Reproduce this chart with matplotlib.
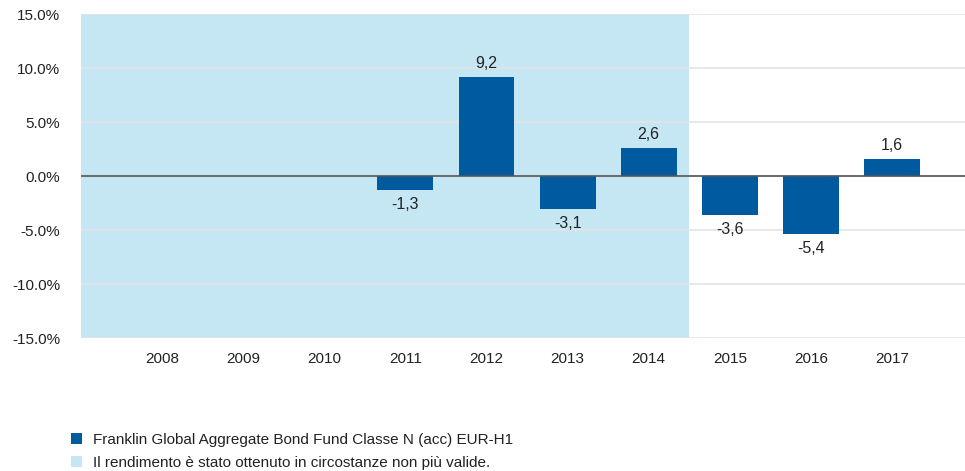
import matplotlib
matplotlib.use("Agg")
import matplotlib.pyplot as plt
from matplotlib.patches import Patch
import numpy as np

# Annual returns (%) - years without data are left empty
years = ['2008', '2009', '2010', '2011', '2012', '2013', '2014', '2015', '2016', '2017']
returns = [np.nan, np.nan, np.nan, -1.3, 9.2, -3.1, 2.6, -3.6, -5.4, 1.6]
shaded_until = '2014'  # performance achieved in circumstances no longer valid

fund_label = 'Franklin Global Aggregate Bond Fund Classe N (acc) EUR-H1'
shade_label = 'Il rendimento è stato ottenuto in circostanze non più valide.'

bar_color = '#005aa0'
shade_color = '#c5e7f3'

plt.rcParams['font.family'] = ['Liberation Sans', 'DejaVu Sans']

fig = plt.figure(figsize=(9.65, 4.71), dpi=100)
ax = fig.add_axes([81 / 965, 1 - 338 / 471, 1 - 81 / 965, (338 - 14) / 471])

x = np.arange(len(years))
vals = np.array(returns)

# shaded background for the early period
ax.axvspan(-1, years.index(shaded_until) + 0.5, color=shade_color, zorder=0, lw=0)

# gridlines and zero line
for y in np.arange(-15, 16, 5):
    ax.axhline(y, color='#e4e4e4', lw=1.2, zorder=1)
ax.axhline(0, color='#555555', lw=1.2, zorder=3)

ax.bar(x, vals, width=0.69, color=bar_color, zorder=2)

for xi, v in zip(x, vals):
    if np.isnan(v):
        continue
    txt = f'{v:.1f}'.replace('.', ',')
    if v >= 0:
        ax.annotate(txt, (xi, v), xytext=(0, 4), textcoords='offset points',
                    ha='center', va='bottom', fontsize=11.5, color='#222222')
    else:
        ax.annotate(txt, (xi, v), xytext=(0, -5), textcoords='offset points',
                    ha='center', va='top', fontsize=11.5, color='#222222')

ax.set_xlim(-1, 9.9)
ax.set_ylim(-15, 15)
ax.set_yticks(np.arange(-15, 16, 5))
ax.set_yticklabels([f'{t:.1f}%' for t in np.arange(-15, 16, 5)])
ax.set_xticks(x)
ax.set_xticklabels(years)
ax.tick_params(axis='y', length=0, pad=15, labelsize=11, labelcolor='#222222')
ax.tick_params(axis='x', length=0, pad=10, labelsize=11, labelcolor='#222222')
for s in ax.spines.values():
    s.set_visible(False)

handles = [Patch(facecolor=bar_color, label=fund_label),
           Patch(facecolor=shade_color, label=shade_label)]
fig.legend(handles=handles, loc='upper left', bbox_to_anchor=(71 / 965, 1 - 433 / 471),
           frameon=False, fontsize=11, handlelength=0.75, handleheight=0.75,
           handletextpad=0.7, labelspacing=0.6, borderpad=0, borderaxespad=0,
           labelcolor='#222222')

fig.savefig('out.png', dpi=100)
